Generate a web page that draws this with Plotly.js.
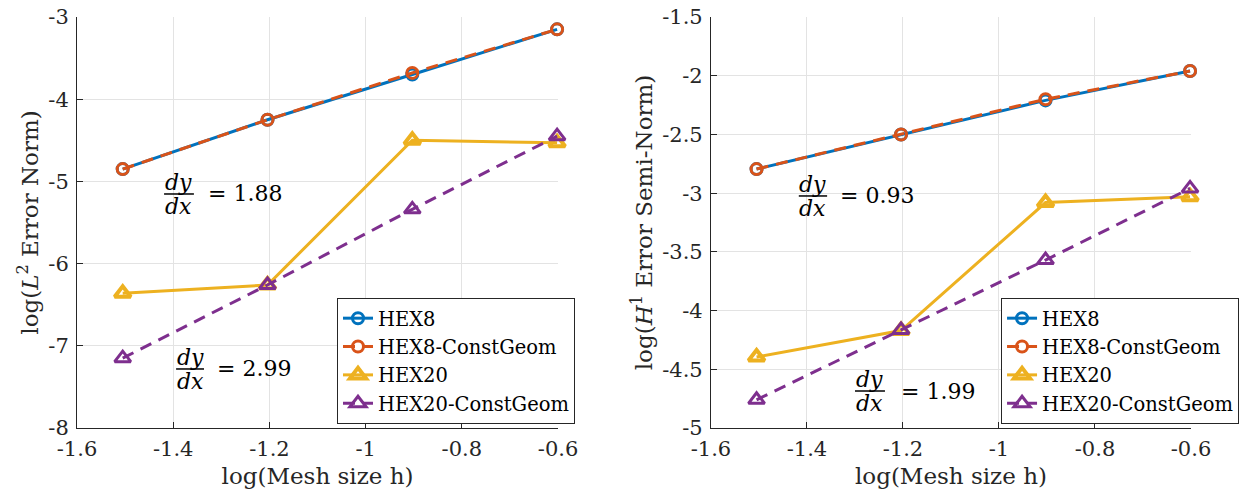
<!DOCTYPE html>
<html><head><meta charset="utf-8">
<script src="https://cdn.plot.ly/plotly-3.0.1.min.js"></script>
<style>html,body{margin:0;padding:0;background:#fff}#chart{width:1244px;height:499px}</style>
</head><body><div id="chart"></div>
<script>
const logH = [-1.505, -1.204, -0.903, -0.602];
const l2Hex8 = [-4.85, -4.25, -3.70, -3.15];
const l2Hex8Const = [-4.85, -4.25, -3.68, -3.15];
const l2Hex20 = [-6.36, -6.26, -4.50, -4.53];
const l2Hex20Const = [-7.15, -6.26, -5.34, -4.45];
const h1Hex8 = [-2.795, -2.50, -2.21, -1.96];
const h1Hex8Const = [-2.795, -2.50, -2.20, -1.96];
const h1Hex20 = [-4.395, -4.17, -3.08, -3.03];
const h1Hex20Const = [-4.76, -4.165, -3.57, -2.96];
const seriesNames = ['HEX8', 'HEX8-ConstGeom', 'HEX20', 'HEX20-ConstGeom'];
const xTickVals = [-1.6, -1.4, -1.2, -1, -0.8, -0.6];
const xTickText = ['-1.6', '-1.4', '-1.2', '-1', '-0.8', '-0.6'];
const l2TickVals = [-8, -7, -6, -5, -4, -3];
const l2TickText = ['-8', '-7', '-6', '-5', '-4', '-3'];
const h1TickVals = [-5, -4.5, -4, -3.5, -3, -2.5, -2, -1.5];
const h1TickText = ['-5', '-4.5', '-4', '-3.5', '-3', '-2.5', '-2', '-1.5'];
const slopeLabels = ['1.88', '2.99', '0.93', '1.99'];

const colors = ['#0072BD', '#D95319', '#EDB120', '#7E2F8E'];
const dashes = ['solid', '12px,8px', 'solid', '12px,8px'];
const symbols = ['circle-open', 'circle-open', 'triangle-up-open', 'triangle-up-open'];
const msize = [11, 11, 14, 14];
const FONT = 'DejaVu Serif, serif';

function mk(ys, i, xa, ya, leg) {
  return {
    x: logH, y: ys, name: seriesNames[i], type: 'scatter', mode: 'lines+markers',
    xaxis: xa, yaxis: ya, legend: leg, cliponaxis: false,
    line: {color: colors[i], width: 3, dash: dashes[i]},
    marker: {symbol: symbols[i], size: msize[i], color: colors[i], line: {color: colors[i], width: i === 2 ? 4 : 3}}
  };
}
const leftSets = [l2Hex8, l2Hex8Const, l2Hex20, l2Hex20Const];
const rightSets = [h1Hex8, h1Hex8Const, h1Hex20, h1Hex20Const];
const data = [];
leftSets.forEach((s, i) => data.push(mk(s, i, 'x', 'y', 'legend')));
rightSets.forEach((s, i) => data.push(mk(s, i, 'x2', 'y2', 'legend2')));

const axCommon = {
  showline: true, linecolor: '#262626', linewidth: 1,
  showgrid: true, gridcolor: '#e3e3e3', gridwidth: 1,
  zeroline: false, ticks: 'inside', ticklen: 6, tickcolor: '#262626',
  tickfont: {family: FONT, size: 21, color: '#262626'}, tickmode: 'array'
};
function xa(dom, anchor) {
  return Object.assign({}, axCommon, {domain: dom, anchor: anchor, range: [-1.6, -0.6],
    tickvals: xTickVals, ticktext: xTickText, ticklabelstandoff: 2,
    title: {text: 'log(Mesh size h)', font: {family: FONT, size: 23, color: '#262626'}, standoff: 7}});
}
function ya(dom, anchor, rng, tv, tt, ttl) {
  return Object.assign({}, axCommon, {domain: dom, anchor: anchor, range: rng,
    tickvals: tv, ticktext: tt, ticklabelstandoff: 3,
    title: {text: ttl, font: {family: FONT, size: 23, color: '#262626'}, standoff: 3}});
}
const yDom = [0.1423, 0.9659];

// fraction annotations: [xref, yref, barX0, barX1, barY, eqX, label]
const fracs = [
  ['x', 'y', -1.419, -1.357, -5.153, -1.332, slopeLabels[0]],
  ['x', 'y', -1.394, -1.336, -7.282, -1.313, slopeLabels[1]],
  ['x2', 'y2', -1.417, -1.358, -3.024, -1.335, slopeLabels[2]],
  ['x2', 'y2', -1.300, -1.2375, -4.685, -1.208, slopeLabels[3]]
];
const shapes = [], annotations = [];
const af = {family: FONT, size: 22, color: '#000'};
fracs.forEach(f => {
  const [xr, yr, x0, x1, by, ex, lab] = f;
  const cx = (x0 + x1) / 2;
  shapes.push({type: 'line', xref: xr, yref: yr, x0: x0, x1: x1, y0: by, y1: by, line: {color: '#000', width: 1.5}});
  annotations.push({xref: xr, yref: yr, x: cx, y: by, text: '<i>dy</i>', showarrow: false, font: af, xanchor: 'center', yanchor: 'bottom', yshift: -3});
  annotations.push({xref: xr, yref: yr, x: cx, y: by, text: '<i>dx</i>', showarrow: false, font: af, xanchor: 'center', yanchor: 'top', yshift: 2});
  annotations.push({xref: xr, yref: yr, x: ex, y: by, text: '= ' + lab, showarrow: false, font: af, xanchor: 'left', yanchor: 'middle'});
});

const legCommon = {
  bgcolor: '#ffffff', bordercolor: '#262626', borderwidth: 1,
  font: {family: FONT, size: 19.5, color: '#000'},
  xanchor: 'left', yanchor: 'top', tracegroupgap: 0, itemwidth: 30
};
const layout = {
  width: 1244, height: 499, margin: {l: 0, r: 0, t: 0, b: 0},
  paper_bgcolor: '#fff', plot_bgcolor: '#fff', showlegend: true,
  xaxis: xa([0.0619, 0.4486], 'y'),
  yaxis: ya(yDom, 'x', [-8, -3], l2TickVals, l2TickText, 'log(<i>L</i><sup>2</sup> Error Norm)'),
  xaxis2: xa([0.5715, 0.9574], 'y2'),
  yaxis2: ya(yDom, 'x2', [-5, -1.5], h1TickVals, h1TickText, 'log(<i>H</i><sup>1</sup> Error Semi-Norm)'),
  legend: Object.assign({}, legCommon, {x: 0.2709, y: 0.4028}),
  legend2: Object.assign({}, legCommon, {x: 0.8047, y: 0.4028}),
  shapes: shapes, annotations: annotations
};
Plotly.newPlot('chart', data, layout, {displayModeBar: false, staticPlot: true});
</script></body></html>
